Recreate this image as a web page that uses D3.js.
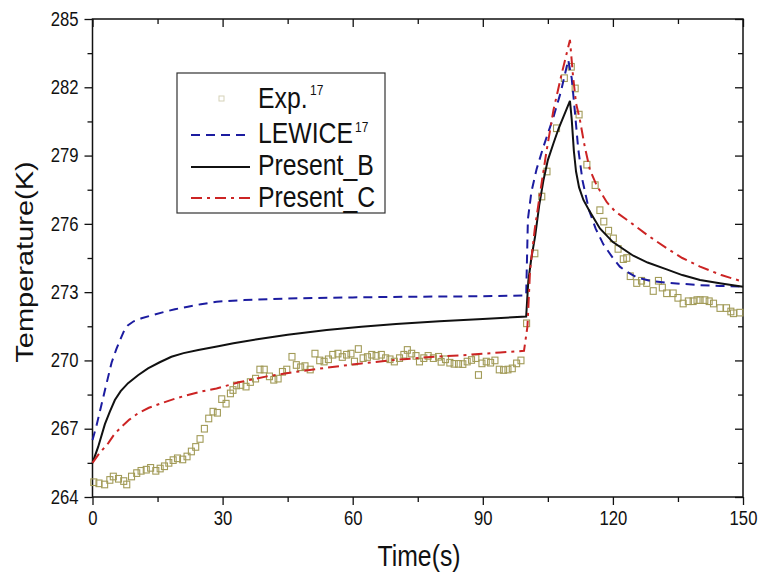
<!DOCTYPE html>
<html>
<head>
<meta charset="utf-8">
<script src="https://cdn.jsdelivr.net/npm/d3@7"></script>
<style>
  body { margin: 0; background: #fff; }
  text { font-family: Arial, "Liberation Sans", sans-serif; fill: #111; }
</style>
</head>
<body>
<svg id="chart" width="763" height="577"></svg>
<script>
// ticks
var xMajor = [0, 30, 60, 90, 120, 150];
var xMinor = [15, 45, 75, 105, 135];
var yMajor = [264, 267, 270, 273, 276, 279, 282, 285];
var yMinor = [265.5, 268.5, 271.5, 274.5, 277.5, 280.5, 283.5];

// LEWICE (blue dashed)
var lewiceTime = [0, 1, 2, 3, 4.4, 5.5, 6.7, 7.5, 8.2, 9.5, 11.3, 14, 16.7, 19, 22, 25, 28.6, 35, 45, 60, 75, 90, 100,
  100.4, 101.2, 102.4, 104, 106.3, 108, 109.7, 110.5, 111.2, 112, 113, 114.5, 116, 117.8, 120, 121.6, 123.2, 125.5,
  128.6, 132, 136.2, 140, 144.7, 150];
var lewiceTemp = [266.5, 267.2, 268.0, 268.8, 269.9, 270.5, 271.05, 271.4, 271.55, 271.72, 271.85, 272.0, 272.14, 272.25,
  272.36, 272.47, 272.58, 272.65, 272.72, 272.77, 272.8, 272.82, 272.85,
  276.2, 277.4, 278.4, 279.4, 280.7, 281.8, 283.2, 282.4, 281.0, 279.3, 277.9, 276.6, 275.8, 275.1, 274.5, 274.12,
  273.9, 273.65, 273.5, 273.42, 273.36, 273.31, 273.27, 273.25];

// Present_B (black solid)
var presBTime = [0, 1.3, 2.86, 4, 5.16, 6.5, 8.2, 10.5, 12.8, 15.5, 18.2, 21, 24.4, 29, 32.5, 38, 45, 54, 62, 70, 80, 90, 100,
  100.5, 101.2, 102.05, 103, 104, 105, 106.3, 107.5, 108.8, 110.1, 110.5, 111, 111.5, 112.2, 113.2, 114.5, 117, 120,
  124.7, 128, 132.4, 136, 140.1, 145, 150];
var presBTemp = [265.5, 266.2, 267.2, 267.75, 268.26, 268.65, 269.0, 269.35, 269.65, 269.92, 270.16, 270.32, 270.46, 270.62,
  270.75, 270.93, 271.13, 271.34, 271.48, 271.6, 271.72, 271.82, 271.93,
  273.5, 274.5, 275.44, 276.8, 277.93, 278.8, 279.54, 280.2, 280.8, 281.4, 280.6, 279.2, 278.3, 277.6, 277.05, 276.6,
  275.8, 275.2, 274.6, 274.3, 274.0, 273.75, 273.53, 273.38, 273.24];

// Present_C (red dash-dot)
var presCTime = [0, 1.5, 3.6, 5, 6.7, 8.5, 10.5, 13, 15.9, 19, 22, 25, 28.6, 34, 40.2, 47, 54.8, 62, 70.9, 78, 86.3, 94, 99.5,
  100.3, 100.9, 102, 103.2, 104.7, 106.3, 108.2, 110.1, 110.8, 111.5, 112.4, 113.5, 114.7, 116, 117, 118.6, 120.5,
  124.5, 128, 132.4, 136, 140.1, 145, 150];
var presCTemp = [265.5, 265.9, 266.36, 266.75, 267.09, 267.4, 267.68, 267.92, 268.12, 268.32, 268.48, 268.63, 268.77, 269.05,
  269.3, 269.5, 269.7, 269.87, 270.04, 270.15, 270.24, 270.35, 270.42,
  271.5, 273.97, 275.8, 277.34, 279.2, 281.0, 282.6, 284.08, 282.5, 281.3, 280.56, 279.4, 278.37, 277.8, 277.45, 276.95,
  276.55, 276.0, 275.5, 274.93, 274.5, 274.12, 273.75, 273.46];

// Exp. (squares)
var expTime = [0.3, 1.5, 2.8, 4.0, 4.8, 6.0, 7.2, 7.9, 9.0, 10.2, 11.2, 12.4, 13.4, 14.6, 15.6, 16.6, 17.6, 18.6, 19.6,
  20.8, 21.8, 22.8, 23.8, 24.8, 25.8, 26.8, 27.8, 28.8, 29.8, 30.8, 31.8, 32.4, 33.2, 34.2, 35.4, 36.4, 37.6, 38.6,
  39.6, 40.8, 41.8, 42.8, 43.8, 44.8, 46.0, 47.0, 48.0, 49.0, 50.2, 51.3, 52.4, 53.4, 54.4, 55.4, 56.6, 57.6, 58.6,
  59.6, 60.4, 61.3, 62.4, 63.4, 64.4, 65.4, 66.6, 67.6, 68.6, 69.6, 70.8, 71.8, 72.6, 73.6, 74.6, 75.4, 76.4, 77.4,
  78.6, 79.8, 80.4, 81.4, 82.4, 83.4, 84.4, 85.4, 86.4, 87.4, 88.4, 89.0, 89.8, 90.8, 91.8, 92.8, 93.8, 94.8, 95.8,
  96.8, 97.8, 98.8, 100.1, 102.0, 103.6, 104.8, 107.0, 108.8, 110.4, 111.3, 112.2, 114.0, 115.9, 117.0, 117.9, 119.0,
  120.1, 121.2, 122.4, 123.2, 124.0, 125.5, 126.6, 127.8, 129.3, 130.5, 131.4, 132.4, 133.9, 135.0, 136.2, 137.4,
  138.5, 139.4, 140.1, 141.2, 142.2, 143.2, 144.7, 146.2, 147.2, 147.8, 149.3];
var expTemp = [264.65, 264.6, 264.55, 264.75, 264.9, 264.8, 264.7, 264.55, 264.9, 265.05, 265.15, 265.2, 265.28, 265.15,
  265.25, 265.35, 265.5, 265.62, 265.7, 265.65, 265.78, 266.0, 266.2, 266.55, 267.0, 267.45, 267.75, 267.7, 268.3,
  268.1, 268.55, 268.7, 268.9, 268.92, 268.85, 269.05, 269.2, 269.6, 269.6, 269.3, 269.15, 269.2, 269.5, 269.6,
  270.16, 269.8, 269.7, 269.75, 269.6, 270.3, 270.0, 269.95, 270.05, 270.25, 270.3, 270.15, 270.25, 270.3, 269.95,
  270.5, 270.1, 270.15, 270.25, 270.2, 270.25, 270.1, 270.05, 269.95, 270.1, 270.25, 270.46, 270.3, 270.2, 269.95,
  270.1, 270.2, 270.1, 270.16, 269.94, 270.05, 269.9, 269.85, 269.85, 269.84, 269.95, 270.02, 270.1, 269.36, 269.87,
  269.95, 269.9, 270.0, 269.6, 269.58, 269.6, 269.65, 269.87, 270.0, 271.63, 274.7, 277.2, 278.3, 280.2, 282.4,
  282.9, 281.95, 280.8, 278.6, 277.7, 276.6, 276.1, 275.7, 275.36, 274.9, 274.45, 274.5, 273.7, 273.4, 273.5, 273.4,
  273.05, 273.5, 273.2, 272.95, 272.95, 272.75, 272.5, 272.6, 272.6, 272.65, 272.65, 272.65, 272.6, 272.5, 272.3,
  272.3, 272.15, 272.07, 272.1];

var svg = d3.select("#chart");
var mLeft = 92.5, mRight = 743, mTop = 19, mBottom = 497;
var squeeze = 0.855; // the original figure's text is a bit narrow

var x = d3.scaleLinear().domain([0, 150]).range([mLeft, mRight]);
var y = d3.scaleLinear().domain([264, 285]).range([mBottom, mTop]);

function pts(ts, vs) { return ts.map(function(t, i) { return [t, vs[i]]; }); }

var line = d3.line().x(function(d) { return x(d[0]); }).y(function(d) { return y(d[1]); });

// axes
function axisStyle(g) {
  g.select(".domain").remove();
  g.selectAll("line").attr("stroke", "#111").attr("stroke-width", 1.3);
  g.selectAll("text").style("font-size", "19.5px").attr("fill", "#222")
    .attr("transform", "scale(" + squeeze + ",1)");
}

svg.append("g").attr("transform", "translate(0," + mBottom + ")")
  .call(d3.axisBottom(x).tickValues(xMajor).tickSize(8).tickPadding(6).tickFormat(d3.format("d"))).call(axisStyle);
svg.append("g").attr("transform", "translate(0," + mBottom + ")")
  .call(d3.axisBottom(x).tickValues(xMinor).tickSize(5).tickFormat("")).call(axisStyle);
svg.append("g").attr("transform", "translate(" + mLeft + ",0)")
  .call(d3.axisLeft(y).tickValues(yMajor).tickSize(8).tickFormat(d3.format("d"))).call(axisStyle)
  .selectAll("text").attr("x", -14 / squeeze);
svg.append("g").attr("transform", "translate(" + mLeft + ",0)")
  .call(d3.axisLeft(y).tickValues(yMinor).tickSize(5).tickFormat("")).call(axisStyle);
// mirrored ticks, pointing in
svg.append("g").attr("transform", "translate(0," + mTop + ")")
  .call(d3.axisTop(x).tickValues(xMajor).tickSize(-8).tickFormat("")).call(axisStyle);
svg.append("g").attr("transform", "translate(0," + mTop + ")")
  .call(d3.axisTop(x).tickValues(xMinor).tickSize(-5).tickFormat("")).call(axisStyle);
svg.append("g").attr("transform", "translate(" + mRight + ",0)")
  .call(d3.axisRight(y).tickValues(yMajor).tickSize(-8).tickFormat("")).call(axisStyle);
svg.append("g").attr("transform", "translate(" + mRight + ",0)")
  .call(d3.axisRight(y).tickValues(yMinor).tickSize(-5).tickFormat("")).call(axisStyle);

svg.append("rect").attr("x", mLeft).attr("y", mTop).attr("width", mRight - mLeft).attr("height", mBottom - mTop)
  .attr("fill", "none").attr("stroke", "#111").attr("stroke-width", 1.5);

// exp squares
svg.append("g").selectAll("rect").data(pts(expTime, expTemp)).enter().append("rect")
  .attr("x", function(d) { return x(d[0]) - 3; })
  .attr("y", function(d) { return y(d[1]) - 3.3; })
  .attr("width", 6).attr("height", 6.6)
  .attr("fill", "none").attr("stroke", "#a29b58").attr("stroke-width", 1.1);

// curves
svg.append("path").datum(pts(lewiceTime, lewiceTemp)).attr("d", line)
  .attr("fill", "none").attr("stroke", "#1c1ca0").attr("stroke-width", 2).attr("stroke-dasharray", "9,6");
svg.append("path").datum(pts(presBTime, presBTemp)).attr("d", line)
  .attr("fill", "none").attr("stroke", "#111").attr("stroke-width", 2);
svg.append("path").datum(pts(presCTime, presCTemp)).attr("d", line)
  .attr("fill", "none").attr("stroke", "#cc2424").attr("stroke-width", 2).attr("stroke-dasharray", "11,5,3,5");

// squeezed text helper
function label(parent, px, py, size, str, anchor) {
  var t = parent.append("text")
    .attr("transform", "translate(" + px + "," + py + ") scale(" + squeeze + ",1)")
    .attr("text-anchor", anchor || "start")
    .style("font-size", size + "px");
  if (str) t.text(str);
  return t;
}

// axis titles
label(svg, 419, 566, 29, "Time(s)", "middle");
svg.append("text").attr("transform", "translate(33,262) scale(" + squeeze + ",1) rotate(-90)")
  .attr("text-anchor", "middle").style("font-size", "29px").text("Temperature(K)");

// legend
var lg = svg.append("g");
lg.append("rect").attr("x", 177).attr("y", 73).attr("width", 208).attr("height", 140)
  .attr("fill", "#fff").attr("stroke", "#333").attr("stroke-width", 1.2);
lg.append("rect").attr("x", 219).attr("y", 96).attr("width", 5).attr("height", 5)
  .attr("fill", "none").attr("stroke", "#d5d2b8").attr("stroke-width", 1);
var legRows = [
  {y: 135, color: "#1c1ca0", dash: "9,6"},
  {y: 167, color: "#111", dash: null},
  {y: 198, color: "#cc2424", dash: "11,5,3,5"}
];
legRows.forEach(function(r) {
  lg.append("line").attr("x1", 191).attr("x2", 250).attr("y1", r.y).attr("y2", r.y)
    .attr("stroke", r.color).attr("stroke-width", 2).attr("stroke-dasharray", r.dash);
});
label(lg, 258, 108, 29, "Exp.");
label(lg, 310, 95, 14, "17");
label(lg, 258, 143, 29, "LEWICE");
label(lg, 355, 132, 14, "17");
label(lg, 258, 175, 29, "Present_B");
label(lg, 258, 207, 29, "Present_C");
</script>
</body>
</html>
